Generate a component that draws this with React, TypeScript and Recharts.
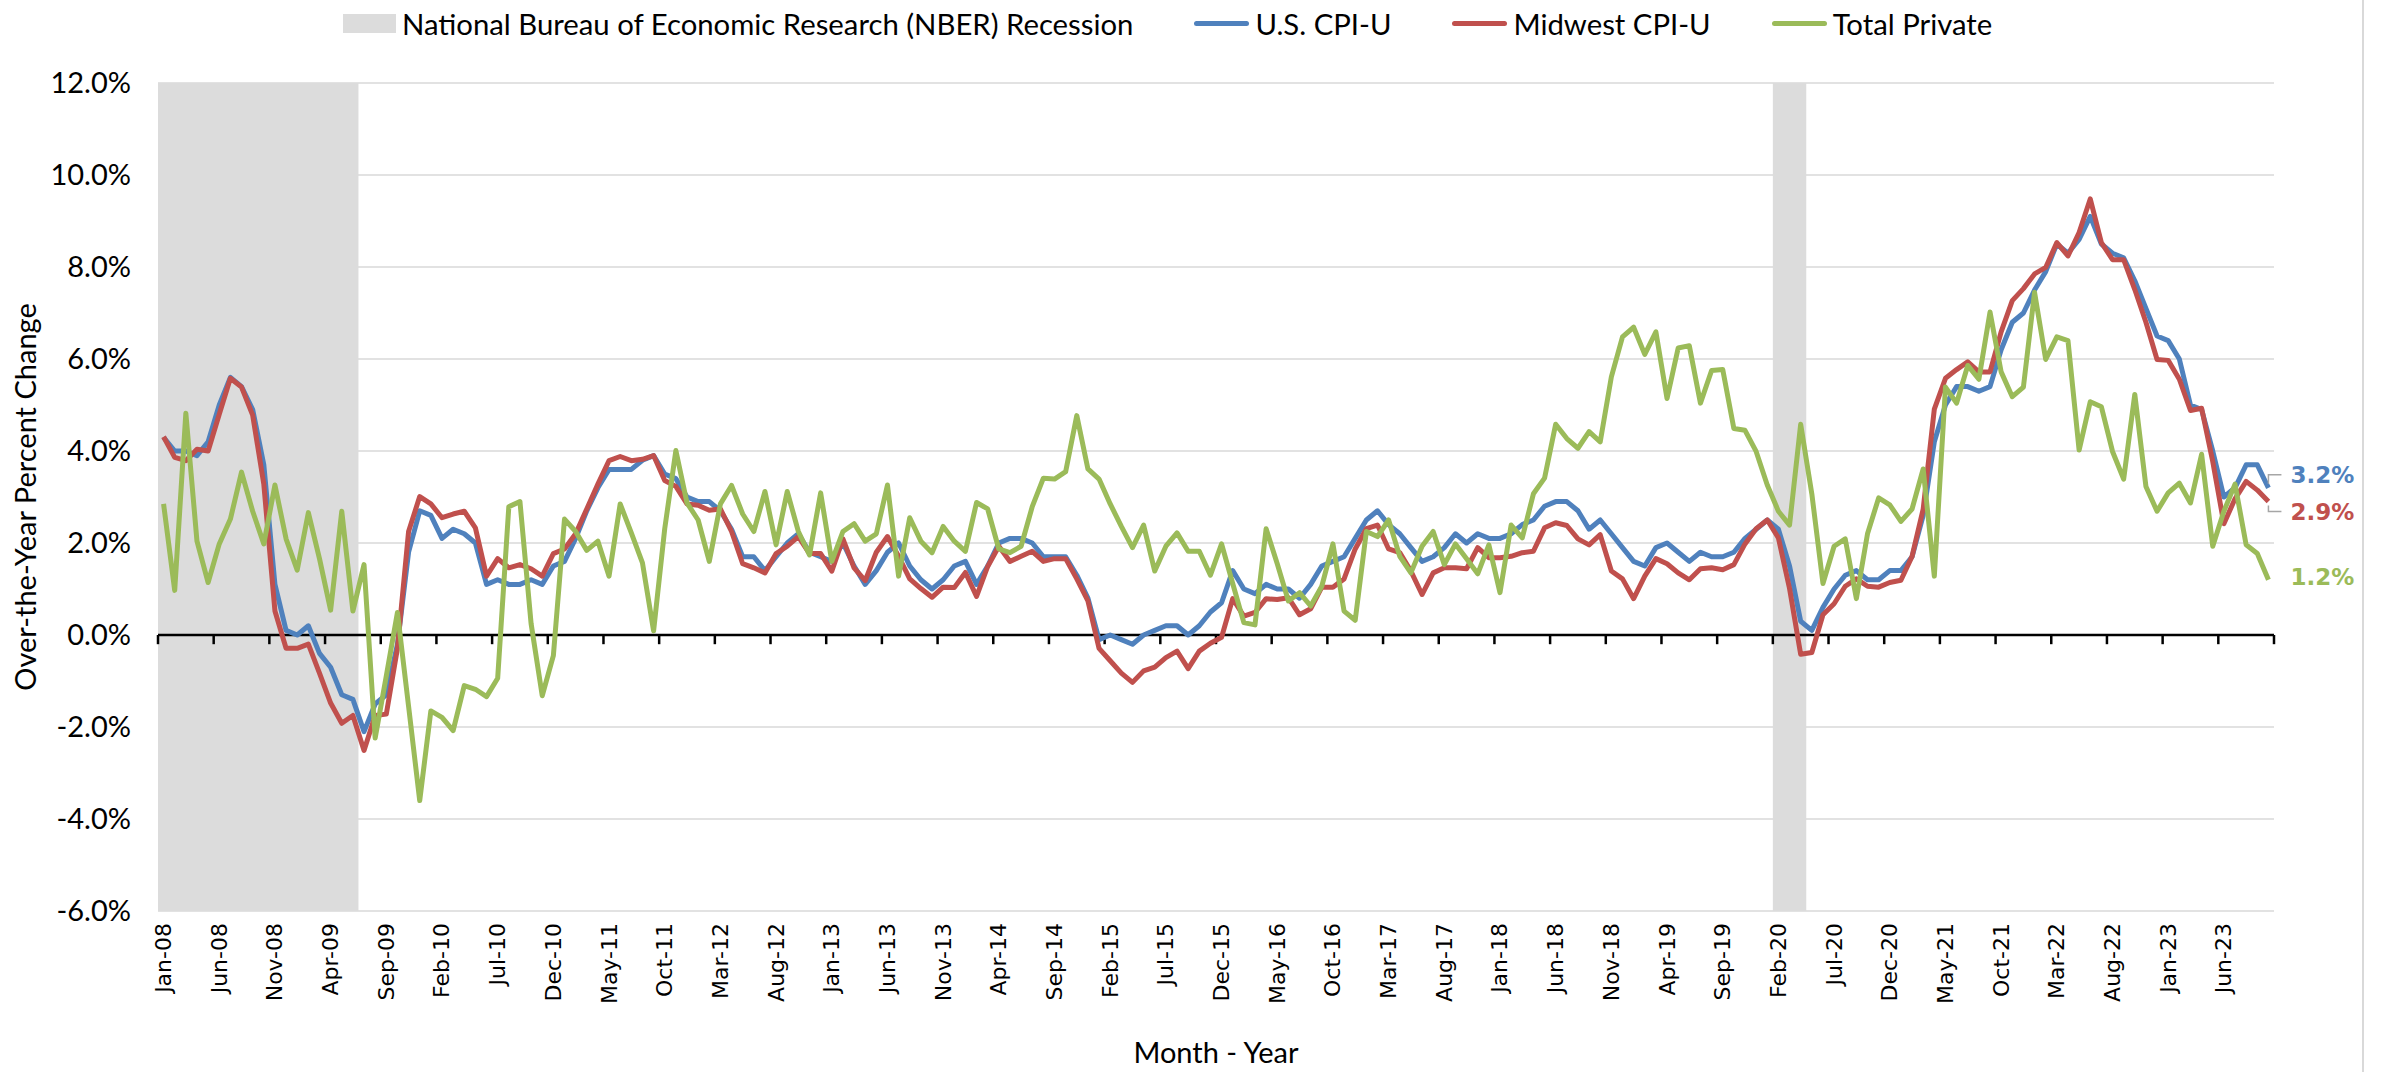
import {
  LineChart, Line, XAxis, YAxis, CartesianGrid,
  ReferenceLine, ReferenceArea, LabelList,
} from 'recharts'

// Month labels Jan-08 .. Oct-23
const monthNames = ['Jan', 'Feb', 'Mar', 'Apr', 'May', 'Jun', 'Jul', 'Aug', 'Sep', 'Oct', 'Nov', 'Dec']
const months: string[] = []
for (let yr = 2008; yr <= 2023; yr++) {
  for (let m = 0; m < 12; m++) {
    if (yr === 2023 && m > 9) break
    months.push(`${monthNames[m]}-${String(yr % 100).padStart(2, '0')}`)
  }
}

const usCpi = [
  4.3, 4.0, 4.0, 3.9, 4.2, 5.0, 5.6, 5.4, 4.9, 3.7, 1.1, 0.1,
  0.0, 0.2, -0.4, -0.7, -1.3, -1.4, -2.1, -1.5, -1.3, -0.2, 1.8, 2.7,
  2.6, 2.1, 2.3, 2.2, 2.0, 1.1, 1.2, 1.1, 1.1, 1.2, 1.1, 1.5,
  1.6, 2.1, 2.7, 3.2, 3.6, 3.6, 3.6, 3.8, 3.9, 3.5, 3.4, 3.0,
  2.9, 2.9, 2.7, 2.3, 1.7, 1.7, 1.4, 1.7, 2.0, 2.2, 1.8, 1.7,
  1.6, 2.0, 1.5, 1.1, 1.4, 1.8, 2.0, 1.5, 1.2, 1.0, 1.2, 1.5,
  1.6, 1.1, 1.5, 2.0, 2.1, 2.1, 2.0, 1.7, 1.7, 1.7, 1.3, 0.8,
  -0.1, 0.0, -0.1, -0.2, 0.0, 0.1, 0.2, 0.2, 0.0, 0.2, 0.5, 0.7,
  1.4, 1.0, 0.9, 1.1, 1.0, 1.0, 0.8, 1.1, 1.5, 1.6, 1.7, 2.1,
  2.5, 2.7, 2.4, 2.2, 1.9, 1.6, 1.7, 1.9, 2.2, 2.0, 2.2, 2.1,
  2.1, 2.2, 2.4, 2.5, 2.8, 2.9, 2.9, 2.7, 2.3, 2.5, 2.2, 1.9,
  1.6, 1.5, 1.9, 2.0, 1.8, 1.6, 1.8, 1.7, 1.7, 1.8, 2.1, 2.3,
  2.5, 2.3, 1.5, 0.3, 0.1, 0.6, 1.0, 1.3, 1.4, 1.2, 1.2, 1.4,
  1.4, 1.7, 2.6, 4.2, 5.0, 5.4, 5.4, 5.3, 5.4, 6.2, 6.8, 7.0,
  7.5, 7.9, 8.5, 8.3, 8.6, 9.1, 8.5, 8.3, 8.2, 7.7, 7.1, 6.5,
  6.4, 6.0, 5.0, 4.9, 4.0, 3.0, 3.2, 3.7, 3.7, 3.2,
]

const midwestCpi = [
  4.31, 3.86, 3.79, 4.04, 4.0, 4.8, 5.58, 5.39, 4.78, 3.28, 0.52, -0.29,
  -0.29, -0.2, -0.83, -1.48, -1.92, -1.75, -2.51, -1.75, -1.72, -0.29, 2.25, 3.01,
  2.85, 2.55, 2.63, 2.69, 2.33, 1.28, 1.66, 1.46, 1.53, 1.44, 1.28, 1.77,
  1.87, 2.2, 2.74, 3.28, 3.79, 3.88, 3.79, 3.82, 3.9, 3.36, 3.23, 2.85,
  2.82, 2.71, 2.74, 2.25, 1.55, 1.46, 1.35, 1.77, 1.93, 2.14, 1.77, 1.77,
  1.39, 2.09, 1.46, 1.18, 1.8, 2.14, 1.71, 1.22, 1.01, 0.82, 1.04, 1.03,
  1.36, 0.84, 1.49, 1.93, 1.6, 1.71, 1.82, 1.6, 1.66, 1.66, 1.22, 0.74,
  -0.29, -0.56, -0.83, -1.03, -0.78, -0.7, -0.49, -0.35, -0.73, -0.35, -0.18, -0.05,
  0.79, 0.41, 0.49, 0.79, 0.77, 0.81, 0.44, 0.57, 1.04, 1.04, 1.22, 1.87,
  2.31, 2.39, 1.87, 1.79, 1.39, 0.88, 1.35, 1.46, 1.46, 1.44, 1.9, 1.68,
  1.68, 1.71, 1.79, 1.82, 2.33, 2.44, 2.38, 2.09, 1.96, 2.18, 1.39, 1.22,
  0.79, 1.28, 1.66, 1.55, 1.35, 1.2, 1.44, 1.46, 1.42, 1.53, 1.98, 2.31,
  2.5, 2.11, 1.01, -0.42, -0.38, 0.44, 0.68, 1.06, 1.22, 1.06, 1.04, 1.14,
  1.19, 1.71, 2.74, 4.91, 5.58, 5.77, 5.94, 5.72, 5.72, 6.59, 7.27, 7.53,
  7.85, 7.99, 8.53, 8.24, 8.75, 9.48, 8.53, 8.16, 8.16, 7.51, 6.8, 5.99,
  5.97, 5.56, 4.88, 4.93, 3.77, 2.42, 2.96, 3.34, 3.15, 2.9,
]

const totalPrivate = [
  2.85, 0.97, 4.82, 2.04, 1.14, 1.98, 2.52, 3.54, 2.69, 1.98, 3.26, 2.09,
  1.41, 2.66, 1.66, 0.54, 2.69, 0.52, 1.53, -2.24, -0.89, 0.49, -1.55, -3.6,
  -1.65, -1.79, -2.08, -1.1, -1.18, -1.34, -0.94, 2.79, 2.9, 0.25, -1.32, -0.45,
  2.52, 2.25, 1.84, 2.04, 1.28, 2.85, 2.22, 1.57, 0.09, 2.31, 4.01, 2.87,
  2.5, 1.6, 2.85, 3.25, 2.63, 2.25, 3.12, 1.96, 3.12, 2.25, 1.74, 3.09,
  1.6, 2.25, 2.42, 2.04, 2.2, 3.26, 1.28, 2.55, 2.04, 1.79, 2.36, 2.04,
  1.82, 2.88, 2.74, 1.87, 1.79, 1.93, 2.79, 3.41, 3.39, 3.55, 4.77, 3.61,
  3.39, 2.85, 2.36, 1.9, 2.39, 1.39, 1.93, 2.22, 1.82, 1.82, 1.3, 1.98,
  1.12, 0.27, 0.22, 2.31, 1.55, 0.74, 0.92, 0.63, 1.06, 1.98, 0.52, 0.32,
  2.25, 2.14, 2.5, 1.71, 1.35, 1.93, 2.25, 1.53, 1.98, 1.66, 1.33, 1.96,
  0.92, 2.39, 2.11, 3.07, 3.41, 4.58, 4.27, 4.06, 4.42, 4.2, 5.61, 6.48,
  6.69, 6.1, 6.59, 5.14, 6.24, 6.29, 5.04, 5.75, 5.77, 4.49, 4.45, 3.99,
  3.26, 2.69, 2.39, 4.58, 3.07, 1.12, 1.93, 2.09, 0.79, 2.2, 2.98, 2.83,
  2.47, 2.74, 3.61, 1.28, 5.39, 5.04, 5.86, 5.56, 7.02, 5.72, 5.18, 5.39,
  7.45, 5.99, 6.48, 6.4, 4.02, 5.07, 4.96, 3.99, 3.39, 5.23, 3.23, 2.69,
  3.09, 3.3, 2.87, 3.93, 1.93, 2.69, 3.28, 1.96, 1.77, 1.2,
]

const recessionStart = ['Jan-08', 'Feb-20']
const recessionEnd = ['Jun-09', 'Apr-20']
const yTicks = [-6, -4, -2, 0, 2, 4, 6, 8, 10, 12]

const BLUE = '#4f81bd'
const RED = '#c0504d'
const GREEN = '#9bbb59'
const CALIBRI = "Lato, 'Open Sans', sans-serif"

// numeric x: month i is centred at i + 0.5 so ticks sit on category boundaries
const data = months.map((m, i) => ({
  x: i + 0.5, month: m, us: usCpi[i], mw: midwestCpi[i], tp: totalPrivate[i],
}))
const labelTicks = months.map((_, i) => i).filter(i => i % 5 === 0).map(i => i + 0.5)
const boundaryTicks = months.map((_, i) => i).filter(i => i % 5 === 0).concat([months.length])
const last = months.length - 1

function MonthTick({ x, y, payload }: any) {
  return (
    <text
      x={x} y={y} transform={`rotate(-90 ${x} ${y})`}
      textAnchor="end" dominantBaseline="central"
      fontFamily="'DejaVu Sans', Verdana, sans-serif" fontSize={22} fill="#000"
    >{months[Math.floor(payload.value)]}</text>
  )
}

// end-of-line value labels with small grey leader brackets
const endLabel = (color: string, dy: number) => (props: any) => {
  if (props.index !== last) return null
  const { x, y, value } = props
  const ly = y + dy
  return (
    <g>
      {Math.abs(dy) > 5 && (
        <path
          d={`M${x},${y + Math.sign(dy) * 4} V${ly} H${x + 13}`}
          stroke="#a6a6a6" strokeWidth={1.5} fill="none"
        />
      )}
      <text
        x={x + 22} y={ly} dominantBaseline="central"
        fontFamily="'DejaVu Sans', Verdana, sans-serif" fontWeight="bold"
        fontSize={23} fill={color}
      >{`${Number(value).toFixed(1)}%`}</text>
    </g>
  )
}

const legendItem = (swatch: React.ReactNode, text: string) => (
  <div style={{ display: 'flex', alignItems: 'center', gap: 6 }}>
    {swatch}
    <span>{text}</span>
  </div>
)
const lineSwatch = (c: string) => (
  <div style={{ width: 55, height: 5, borderRadius: 3, background: c }} />
)

export default function App() {
  return (
    <div style={{ position: 'relative', width: 2382, height: 1072, background: '#fff', overflow: 'hidden' }}>
      <style>{'body{margin:0}'}</style>

      <div style={{
        position: 'absolute', top: 4, left: 343, height: 38,
        display: 'flex', alignItems: 'center', gap: 61,
        fontFamily: CALIBRI, fontSize: 29.3, color: '#000', whiteSpace: 'nowrap',
      }}>
        {legendItem(<div style={{ width: 53, height: 19, background: '#dcdcdc' }} />, 'National Bureau of Economic Research (NBER) Recession')}
        {legendItem(lineSwatch(BLUE), 'U.S. CPI-U')}
        {legendItem(lineSwatch(RED), 'Midwest CPI-U')}
        {legendItem(lineSwatch(GREEN), 'Total Private')}
      </div>

      <LineChart width={2382} height={1072} data={data} margin={{ top: 83, right: 108, bottom: 0, left: 0 }}>
        {recessionStart.map((s, k) => (
          <ReferenceArea
            key={s}
            x1={months.indexOf(s)} x2={months.indexOf(recessionEnd[k]) + 1}
            fill="#dcdcdc" fillOpacity={1} stroke="none"
          />
        ))}
        <CartesianGrid vertical={false} stroke="#d9d9d9" strokeWidth={1.5} />
        <XAxis
          dataKey="x" type="number" domain={[0, months.length]}
          ticks={labelTicks} interval={0} height={161}
          axisLine={false} tickLine={false} tickSize={0} tickMargin={12}
          tick={<MonthTick />}
        />
        <YAxis
          domain={[-6, 12]} ticks={yTicks} width={158}
          axisLine={false} tickLine={false} tickSize={0} tickMargin={27}
          tickFormatter={(v: number) => `${v.toFixed(1)}%`}
          tick={{ fontFamily: CALIBRI, fontSize: 29, fill: '#000' }}
        />
        <ReferenceLine y={0} stroke="#000" strokeWidth={2.5} />
        {boundaryTicks.map(b => (
          <ReferenceLine
            key={b}
            segment={[{ x: b, y: 0 }, { x: b, y: -0.2 }]}
            stroke="#000" strokeWidth={2.5}
          />
        ))}
        <Line
          dataKey="us" stroke={BLUE} strokeWidth={5} dot={false}
          activeDot={false} isAnimationActive={false} strokeLinejoin="round"
        >
          <LabelList dataKey="us" content={endLabel(BLUE, -13)} />
        </Line>
        <Line
          dataKey="mw" stroke={RED} strokeWidth={5} dot={false}
          activeDot={false} isAnimationActive={false} strokeLinejoin="round"
        >
          <LabelList dataKey="mw" content={endLabel(RED, 10)} />
        </Line>
        <Line
          dataKey="tp" stroke={GREEN} strokeWidth={5} dot={false}
          activeDot={false} isAnimationActive={false} strokeLinejoin="round"
        >
          <LabelList dataKey="tp" content={endLabel(GREEN, -3)} />
        </Line>
      </LineChart>

      <div style={{
        position: 'absolute', left: 24, top: 497,
        transform: 'translate(-50%, -50%) rotate(-90deg)',
        fontFamily: CALIBRI, fontSize: 29, color: '#000', whiteSpace: 'nowrap',
      }}>Over-the-Year Percent Change</div>
      <div style={{
        position: 'absolute', left: 1216, top: 1051,
        transform: 'translate(-50%, -50%)',
        fontFamily: CALIBRI, fontSize: 29, color: '#000', whiteSpace: 'nowrap',
      }}>Month - Year</div>
      <div style={{ position: 'absolute', left: 2362, top: 0, width: 2, height: 1072, background: '#d9d9d9' }} />
    </div>
  )
}
